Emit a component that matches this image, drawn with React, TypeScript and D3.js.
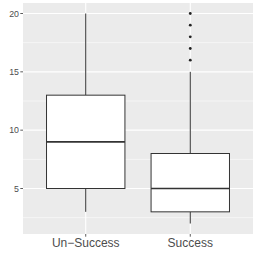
import * as d3 from "d3";

const categories = ["Un-Success", "Success"];
const lowerWhisker = [3, 2];
const q1 = [5, 3];
const medians = [9, 5];
const q3 = [13, 8];
const upperWhisker = [20, 15];
const outliers = [[], [16, 17, 18, 19, 20]];
const yTicks = [5, 10, 15, 20];
const yMinor = [2.5, 7.5, 12.5, 17.5];

export default function App() {
  const width = 256;
  const height = 256;
  const margin = { top: 3, right: 3, bottom: 22, left: 23 };
  const innerLeft = margin.left;
  const innerRight = width - margin.right;
  const innerTop = margin.top;
  const innerBottom = height - margin.bottom;

  const y = d3.scaleLinear().domain([1.1, 20.9]).range([innerBottom, innerTop]);
  // ggplot discrete expansion: 0.6 of a step on each side
  const x = d3.scalePoint<string>().domain(categories).range([innerLeft, innerRight]).padding(0.6);
  const boxW = x.step() * 0.75;

  const text = "#4D4D4D";
  const line = "#333333";

  return (
    <svg
      width={width}
      height={height}
      style={{ position: "absolute", left: 0, top: 0, background: "#fff" }}
      fontFamily="'Liberation Sans', Arial, sans-serif"
    >
      <rect
        x={innerLeft}
        y={innerTop}
        width={innerRight - innerLeft}
        height={innerBottom - innerTop}
        fill="#EBEBEB"
      />
      {yMinor.map((v) => (
        <line key={"mn" + v} x1={innerLeft} x2={innerRight} y1={y(v)} y2={y(v)} stroke="#fff" strokeWidth={0.55} />
      ))}
      {yTicks.map((v) => (
        <line key={"mj" + v} x1={innerLeft} x2={innerRight} y1={y(v)} y2={y(v)} stroke="#fff" strokeWidth={1.1} />
      ))}
      {categories.map((c) => (
        <line key={"vx" + c} x1={x(c)} x2={x(c)} y1={innerTop} y2={innerBottom} stroke="#fff" strokeWidth={1.1} />
      ))}

      {categories.map((c, i) => {
        const cx = x(c) as number;
        return (
          <g key={"box" + c}>
            <line x1={cx} x2={cx} y1={y(q3[i])} y2={y(upperWhisker[i])} stroke={line} strokeWidth={1} />
            <line x1={cx} x2={cx} y1={y(q1[i])} y2={y(lowerWhisker[i])} stroke={line} strokeWidth={1} />
            <rect
              x={cx - boxW / 2}
              y={y(q3[i])}
              width={boxW}
              height={y(q1[i]) - y(q3[i])}
              fill="#fff"
              stroke={line}
              strokeWidth={1}
            />
            <line x1={cx - boxW / 2} x2={cx + boxW / 2} y1={y(medians[i])} y2={y(medians[i])} stroke={line} strokeWidth={1.6} />
            {outliers[i].map((o) => (
              <circle key={"o" + o} cx={cx} cy={y(o)} r={1.4} fill="#222" />
            ))}
          </g>
        );
      })}

      {yTicks.map((v) => (
        <g key={"yt" + v}>
          <line x1={innerLeft - 2.7} x2={innerLeft} y1={y(v)} y2={y(v)} stroke={line} strokeWidth={0.8} />
          <text x={innerLeft - 4} y={y(v)} dy="0.35em" textAnchor="end" fontSize={8.8} fill={text}>
            {v}
          </text>
        </g>
      ))}
      {categories.map((c) => (
        <g key={"xt" + c}>
          <line x1={x(c)} x2={x(c)} y1={innerBottom} y2={innerBottom + 2.7} stroke={line} strokeWidth={0.8} />
          <text x={x(c)} y={innerBottom + 13} textAnchor="middle" fontSize={12} fill={text}>
            {c.replace("-", "\u2212")}
          </text>
        </g>
      ))}
    </svg>
  );
}
